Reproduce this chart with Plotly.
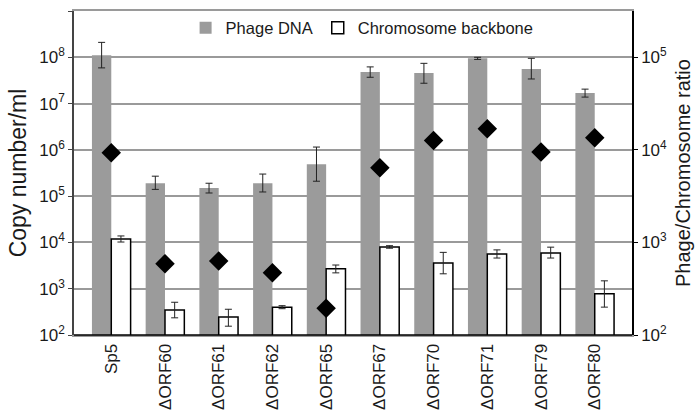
import plotly.graph_objects as go

categories = ["Sp5", "ΔORF60", "ΔORF61", "ΔORF62", "ΔORF65", "ΔORF67", "ΔORF70", "ΔORF71", "ΔORF79", "ΔORF80"]
phage = [1.1e8, 1.9e5, 1.5e5, 1.9e5, 4.9e5, 4.8e7, 4.6e7, 9.5e7, 5.6e7, 1.7e7]
phage_hi = [2.1e8, 2.7e5, 1.9e5, 3.0e5, 1.15e6, 6.2e7, 7.4e7, 1.0e8, 9.5e7, 2.05e7]
phage_lo = [5.9e7, 1.4e5, 1.17e5, 1.23e5, 2.1e5, 3.7e7, 2.75e7, 9.0e7, 3.4e7, 1.38e7]
chrom = [1.18e4, 345, 245, 400, 2700, 8000, 3600, 5600, 5900, 780]
chrom_hi = [1.38e4, 510, 360, 430, 3250, 8500, 6100, 6900, 7900, 1480]
chrom_lo = [1.02e4, 235, 155, 370, 2200, 7500, 2100, 4600, 4600, 400]
ratio = [9300, 590, 630, 470, 195, 6400, 12600, 16900, 9500, 13500]

fig = go.Figure()
fig.add_trace(go.Bar(
    x=categories, y=phage, name="Phage DNA",
    marker=dict(color="#9b9b9b", line=dict(width=0)),
    error_y=dict(type="data", symmetric=False,
                 array=[h - v for h, v in zip(phage_hi, phage)],
                 arrayminus=[v - l for l, v in zip(phage_lo, phage)],
                 color="#222222", thickness=1, width=3.5),
))
fig.add_trace(go.Bar(
    x=categories, y=chrom, name="Chromosome backbone",
    marker=dict(color="white", line=dict(color="black", width=1.5)),
    error_y=dict(type="data", symmetric=False,
                 array=[h - v for h, v in zip(chrom_hi, chrom)],
                 arrayminus=[v - l for l, v in zip(chrom_lo, chrom)],
                 color="#222222", thickness=1, width=3.5),
))
fig.add_trace(go.Scatter(
    x=categories, y=ratio, yaxis="y2", mode="markers", showlegend=False,
    marker=dict(symbol="diamond", size=15, color="black"),
))

font = "Liberation Sans, Arial, sans-serif"
left_ticks = [10 ** k for k in range(2, 10)]
right_ticks = [10 ** k for k in range(2, 6)]

fig.update_layout(
    width=700, height=417,
    margin=dict(l=74, r=68, t=11, b=82, autoexpand=False),
    paper_bgcolor="white", plot_bgcolor="white",
    font=dict(family=font, color="#1a1a1a", size=16),
    barmode="group", bargap=0.28, bargroupgap=0,
    legend=dict(orientation="h", x=0.2, y=1 - 17 / 324, xanchor="left", yanchor="middle",
                font=dict(size=16.5), bgcolor="rgba(255,255,255,0)",
                itemwidth=30, tracegroupgap=0),
    xaxis=dict(tickangle=-90, showline=True, linecolor="#9a9a9a", linewidth=2,
               mirror=True, ticks="", tickfont=dict(size=17), showgrid=False,
               automargin=False),
    yaxis=dict(type="log", range=[2, 9], tickvals=left_ticks,
               ticktext=[f"10<sup>{k}</sup>" for k in range(2, 10)],
               showgrid=True, gridcolor="#9a9a9a", gridwidth=2,
               showline=True, linecolor="#444444", linewidth=1.5,
               ticks="outside", ticklen=4, tickcolor="#444444",
               tickfont=dict(size=17), automargin=False,
               title=dict(text="Copy number/ml", font=dict(size=23), standoff=6)),
    yaxis2=dict(type="log", range=[2, 5.5], overlaying="y", side="right",
                tickvals=right_ticks,
                ticktext=[f"10<sup>{k}</sup>" for k in range(2, 6)],
                showgrid=False, showline=True, linecolor="black", linewidth=1.5,
                ticks="outside", ticklen=4, tickcolor="black",
                tickfont=dict(size=17), automargin=False),
    shapes=[dict(type="line", xref="paper", yref="paper", x0=0, x1=1, y0=0, y1=0,
                 line=dict(color="black", width=1.5), layer="above")],
    annotations=[dict(text="Phage/Chromosome ratio", xref="paper", yref="paper",
                      x=1.0 + 51 / 558, y=0.5, textangle=-90, showarrow=False,
                      xanchor="center", yanchor="middle", font=dict(size=20))],
)

fig.write_html("out.html", config={"displayModeBar": False},
               post_script="document.body.style.margin='0';")
